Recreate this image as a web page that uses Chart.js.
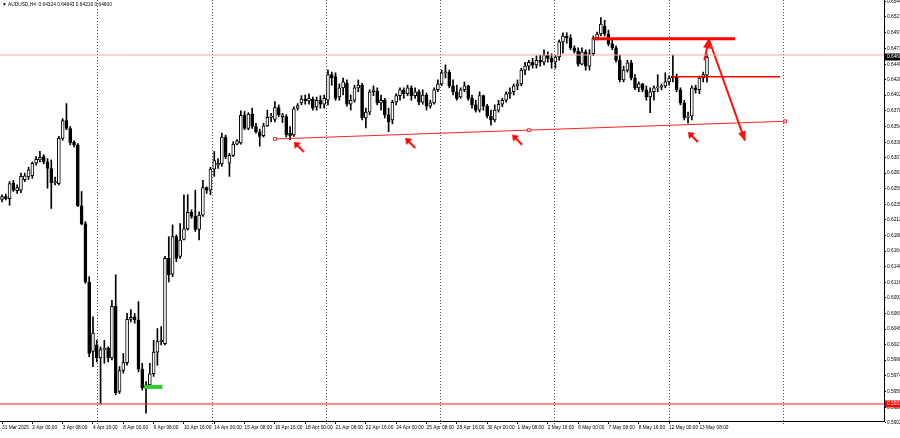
<!DOCTYPE html>
<html>
<head>
<meta charset="utf-8">
<script src="https://cdn.jsdelivr.net/npm/chart.js@4.4.1/dist/chart.umd.min.js"></script>
<style>
  html, body { margin: 0; padding: 0; background: #fff; }
  #wrap { width: 900px; height: 438px; }
</style>
</head>
<body>
<div id="wrap"><canvas id="chart" width="900" height="438"></canvas></div>
<script>
// AUDUSD H4, bar 0 = 31 Mar 2025 16:00, one bar every 4 hours
const opens = [
  0.6243, 0.6247, 0.6244, 0.6268, 0.6256, 0.6257, 0.6273, 0.6277, 0.6279, 0.6298,
  0.6303, 0.6308, 0.6300, 0.6290, 0.6268, 0.6267, 0.6336, 0.6363, 0.6351, 0.6330,
  0.6326, 0.6233, 0.6206, 0.6117, 0.6011, 0.6021, 0.6001, 0.6014, 0.6016, 0.6001,
  0.6080, 0.5950, 0.5982, 0.5994, 0.6060, 0.6064, 0.6059, 0.5984, 0.5956, 0.5960,
  0.5977, 0.6010, 0.6026, 0.6023, 0.6153, 0.6129, 0.6186, 0.6156, 0.6182, 0.6198,
  0.6223, 0.6217, 0.6197, 0.6219, 0.6261, 0.6257, 0.6289, 0.6295, 0.6297, 0.6338,
  0.6298, 0.6310, 0.6327, 0.6329, 0.6371, 0.6351, 0.6373, 0.6354, 0.6346, 0.6340,
  0.6355, 0.6368, 0.6365, 0.6383, 0.6369, 0.6369, 0.6344, 0.6341, 0.6382, 0.6390,
  0.6396, 0.6393, 0.6396, 0.6384, 0.6394, 0.6388, 0.6394, 0.6433, 0.6430, 0.6399,
  0.6413, 0.6420, 0.6388, 0.6394, 0.6413, 0.6417, 0.6367, 0.6376, 0.6407, 0.6408,
  0.6390, 0.6394, 0.6372, 0.6364, 0.6391, 0.6401, 0.6410, 0.6404, 0.6413, 0.6401,
  0.6407, 0.6391, 0.6402, 0.6385, 0.6390, 0.6410, 0.6419, 0.6436, 0.6437, 0.6416,
  0.6407, 0.6399, 0.6410, 0.6416, 0.6397, 0.6387, 0.6379, 0.6401, 0.6385, 0.6370,
  0.6364, 0.6379, 0.6388, 0.6394, 0.6404, 0.6407, 0.6416, 0.6419, 0.6440, 0.6446,
  0.6452, 0.6448, 0.6455, 0.6452, 0.6463, 0.6458, 0.6452, 0.6460, 0.6483, 0.6492,
  0.6489, 0.6474, 0.6469, 0.6449, 0.6468, 0.6446, 0.6465, 0.6489, 0.6495, 0.6507,
  0.6495, 0.6480, 0.6474, 0.6455, 0.6425, 0.6440, 0.6451, 0.6428, 0.6413, 0.6419,
  0.6410, 0.6399, 0.6407, 0.6413, 0.6414, 0.6416, 0.6422, 0.6428, 0.6431, 0.6410,
  0.6390, 0.6368, 0.6370, 0.6413, 0.6410, 0.6428, 0.64324
];
const highs = [
  0.6250, 0.6251, 0.6270, 0.6272, 0.6265, 0.6283, 0.6283, 0.6292, 0.6300, 0.6308,
  0.6316, 0.6311, 0.6305, 0.6303, 0.6277, 0.6339, 0.6366, 0.6389, 0.6354, 0.6332,
  0.6328, 0.6255, 0.6209, 0.6125, 0.6064, 0.6028, 0.6018, 0.6028, 0.6018, 0.6089,
  0.6128, 0.5988, 0.6008, 0.6069, 0.6075, 0.6069, 0.6087, 0.5993, 0.5965, 0.5993,
  0.6028, 0.6046, 0.6049, 0.6156, 0.6186, 0.6204, 0.6189, 0.6206, 0.6250, 0.6250,
  0.6227, 0.6257, 0.6224, 0.6272, 0.6262, 0.6292, 0.6316, 0.6305, 0.6344, 0.6341,
  0.6313, 0.6331, 0.6334, 0.6378, 0.6377, 0.6375, 0.6382, 0.6359, 0.6350, 0.6359,
  0.6379, 0.6374, 0.6392, 0.6387, 0.6374, 0.6372, 0.6354, 0.6384, 0.6389, 0.6401,
  0.6402, 0.6404, 0.6399, 0.6399, 0.6401, 0.6402, 0.6440, 0.6437, 0.6436, 0.6419,
  0.6428, 0.6425, 0.6402, 0.6417, 0.6425, 0.6420, 0.6382, 0.6410, 0.6416, 0.6413,
  0.6402, 0.6397, 0.6382, 0.6394, 0.6404, 0.6413, 0.6413, 0.6417, 0.6416, 0.6413,
  0.6410, 0.6410, 0.6405, 0.6394, 0.6413, 0.6425, 0.6440, 0.6448, 0.6440, 0.6425,
  0.6417, 0.6413, 0.6422, 0.6417, 0.6402, 0.6394, 0.6407, 0.6402, 0.6388, 0.6379,
  0.6387, 0.6394, 0.6397, 0.6407, 0.6413, 0.6419, 0.6425, 0.6443, 0.6452, 0.6455,
  0.6458, 0.6462, 0.6463, 0.6471, 0.6468, 0.6465, 0.6463, 0.6486, 0.6497, 0.6497,
  0.6494, 0.6477, 0.6474, 0.6474, 0.6471, 0.6471, 0.6492, 0.6498, 0.6520, 0.6516,
  0.6501, 0.6486, 0.6477, 0.6463, 0.6446, 0.6455, 0.6455, 0.6433, 0.6422, 0.6420,
  0.6416, 0.6413, 0.6416, 0.6433, 0.6419, 0.6436, 0.6431, 0.6463, 0.6434, 0.6413,
  0.6394, 0.6376, 0.6416, 0.6417, 0.6431, 0.6437, 0.64643
];
const lows = [
  0.6239, 0.6242, 0.6234, 0.6255, 0.6252, 0.6253, 0.6270, 0.6273, 0.6275, 0.6295,
  0.6300, 0.6297, 0.6260, 0.6229, 0.6265, 0.6265, 0.6333, 0.6349, 0.6326, 0.6323,
  0.6232, 0.6204, 0.6115, 0.6003, 0.5988, 0.5995, 0.5931, 0.5993, 0.5995, 0.5998,
  0.5945, 0.5947, 0.5978, 0.5990, 0.6056, 0.6054, 0.5980, 0.5952, 0.5917, 0.5955,
  0.5973, 0.5990, 0.6021, 0.6021, 0.6117, 0.6125, 0.6148, 0.6153, 0.6181, 0.6196,
  0.6214, 0.6194, 0.6181, 0.6217, 0.6252, 0.6250, 0.6278, 0.6290, 0.6293, 0.6305,
  0.6278, 0.6308, 0.6326, 0.6327, 0.6349, 0.6349, 0.6351, 0.6344, 0.6324, 0.6338,
  0.6354, 0.6361, 0.6361, 0.6369, 0.6360, 0.6338, 0.6334, 0.6339, 0.6379, 0.6387,
  0.6388, 0.6388, 0.6379, 0.6379, 0.6382, 0.6382, 0.6387, 0.6417, 0.6394, 0.6394,
  0.6402, 0.6385, 0.6379, 0.6391, 0.6407, 0.6364, 0.6352, 0.6372, 0.6401, 0.6387,
  0.6379, 0.6367, 0.6346, 0.6358, 0.6387, 0.6394, 0.6397, 0.6401, 0.6394, 0.6397,
  0.6387, 0.6388, 0.6379, 0.6382, 0.6388, 0.6407, 0.6416, 0.6428, 0.6413, 0.6402,
  0.6394, 0.6397, 0.6407, 0.6394, 0.6382, 0.6376, 0.6376, 0.6379, 0.6367, 0.6356,
  0.6361, 0.6376, 0.6384, 0.6391, 0.6397, 0.6402, 0.6410, 0.6416, 0.6433, 0.6440,
  0.6443, 0.6443, 0.6446, 0.6448, 0.6452, 0.6443, 0.6443, 0.6455, 0.6466, 0.6481,
  0.6471, 0.6466, 0.6446, 0.6448, 0.6440, 0.6440, 0.6462, 0.6486, 0.6492, 0.6492,
  0.6477, 0.6471, 0.6452, 0.6422, 0.6422, 0.6437, 0.6425, 0.6410, 0.6407, 0.6407,
  0.6394, 0.6375, 0.6394, 0.6407, 0.6410, 0.6413, 0.6417, 0.6422, 0.6407, 0.6387,
  0.6364, 0.6359, 0.6364, 0.6405, 0.6404, 0.6422, 0.64216
];
const closes = [
  0.6247, 0.6244, 0.6267, 0.6257, 0.6261, 0.6278, 0.6279, 0.6288, 0.6298, 0.6304,
  0.6307, 0.6300, 0.6290, 0.6268, 0.6270, 0.6336, 0.6363, 0.6351, 0.6329, 0.6326,
  0.6233, 0.6206, 0.6117, 0.6008, 0.6039, 0.6001, 0.6014, 0.6016, 0.6001, 0.6080,
  0.5948, 0.5982, 0.5994, 0.6060, 0.6063, 0.6059, 0.5984, 0.5956, 0.5960, 0.5977,
  0.6010, 0.6026, 0.6028, 0.6153, 0.6128, 0.6186, 0.6153, 0.6181, 0.6198, 0.6223,
  0.6217, 0.6197, 0.6219, 0.6261, 0.6257, 0.6289, 0.6302, 0.6298, 0.6338, 0.6308,
  0.6310, 0.6327, 0.6332, 0.6371, 0.6351, 0.6373, 0.6354, 0.6346, 0.6339, 0.6355,
  0.6368, 0.6370, 0.6383, 0.6372, 0.6372, 0.6341, 0.6340, 0.6381, 0.6386, 0.6396,
  0.6393, 0.6397, 0.6382, 0.6394, 0.6388, 0.6397, 0.6433, 0.6428, 0.6397, 0.6413,
  0.6422, 0.6388, 0.6394, 0.6413, 0.6417, 0.6367, 0.6376, 0.6407, 0.6410, 0.6390,
  0.6394, 0.6372, 0.6361, 0.6391, 0.6401, 0.6410, 0.6404, 0.6413, 0.6401, 0.6407,
  0.6391, 0.6402, 0.6385, 0.6390, 0.6410, 0.6419, 0.6436, 0.6437, 0.6416, 0.6407,
  0.6397, 0.6410, 0.6416, 0.6397, 0.6387, 0.6379, 0.6401, 0.6385, 0.6370, 0.6364,
  0.6379, 0.6388, 0.6394, 0.6404, 0.6407, 0.6416, 0.6419, 0.6440, 0.6446, 0.6452,
  0.6448, 0.6455, 0.6452, 0.6463, 0.6458, 0.6452, 0.6460, 0.6483, 0.6492, 0.6489,
  0.6474, 0.6469, 0.6449, 0.6468, 0.6446, 0.6465, 0.6489, 0.6495, 0.6510, 0.6495,
  0.6480, 0.6474, 0.6455, 0.6425, 0.6440, 0.6451, 0.6428, 0.6413, 0.6419, 0.6410,
  0.6399, 0.6407, 0.6413, 0.6414, 0.6416, 0.6422, 0.6428, 0.6431, 0.6410, 0.6390,
  0.6368, 0.6370, 0.6413, 0.6410, 0.6428, 0.6433, 0.64600
];

const xTickBars = [0, 8, 16, 24, 32, 40, 48, 56, 64, 72, 80, 88, 96, 104, 112, 120,
  128, 136, 144, 152, 160, 168, 176, 184];
const xTickLabels = ['31 Mar 2025', '2 Apr 00:00', '3 Apr 08:00', '4 Apr 16:00', '8 Apr 00:00',
  '9 Apr 08:00', '10 Apr 16:00', '14 Apr 00:00', '15 Apr 08:00', '16 Apr 16:00', '18 Apr 00:00',
  '21 Apr 08:00', '22 Apr 16:00', '24 Apr 00:00', '25 Apr 08:00', '28 Apr 16:00', '30 Apr 00:00',
  '1 May 08:00', '2 May 16:00', '6 May 00:00', '7 May 08:00', '8 May 16:00', '12 May 00:00',
  '13 May 08:00'];
const yTicks = [0.6544, 0.6521, 0.6497, 0.6473, 0.6449, 0.6426, 0.6402, 0.6378, 0.6354, 0.6330,
  0.6307, 0.6283, 0.6259, 0.6235, 0.6212, 0.6188, 0.6164, 0.6140, 0.6116, 0.6093, 0.6069,
  0.6045, 0.6021, 0.5998, 0.5974, 0.5950, 0.5926, 0.5902];
const gridBars = [25.1, 55.3, 85.4, 115.6, 145.7, 175.9, 206];

// drawn objects: levels, trend line, arrows (bar index, price)
const headerText = '\u25BC AUDUSD,H4  0.64324 0.64643 0.64216 0.64600';
const lastPrice = 0.6460;
const priceLine = 0.6463;
const supportLevel = 0.5931;
const trendLine = [{x: 72, y: 0.6335}, {x: 139, y: 0.63485}, {x: 206.6, y: 0.6362}];
const topLevel = [{x: 155.9, y: 0.6488}, {x: 193.4, y: 0.6488}];
const midLevel = [{x: 176.8, y: 0.6430}, {x: 205.3, y: 0.6430}];
const arrowUp = [{x: 185.3, y: 0.6455}, {x: 186.5, y: 0.6487}];
const arrowDown = [{x: 186.5, y: 0.6487}, {x: 196, y: 0.6333}];
const markArrows = [{x: 78.3, y: 0.6323}, {x: 107.7, y: 0.6329}, {x: 135.9, y: 0.6334}, {x: 182.3, y: 0.6338}];
const greenLevel = [{x: 37.5, y: 0.5957}, {x: 42.3, y: 0.5957}];

const idx = opens.map((_, i) => i);
const wicks = idx.map(i => ({x: i, y: [lows[i], highs[i]]}));
const bodies = idx.map(i => ({x: i, y: [opens[i], closes[i]]}));

function arrowIcon() {
  const c = document.createElement('canvas');
  c.width = 12; c.height = 12;
  const g = c.getContext('2d');
  g.strokeStyle = g.fillStyle = '#ff0000';
  g.lineWidth = 2;
  g.beginPath(); g.moveTo(4, 4); g.lineTo(11, 11); g.stroke();
  g.beginPath(); g.moveTo(1, 1); g.lineTo(8, 2); g.lineTo(2, 8); g.closePath(); g.fill();
  return c;
}

const fullWidth = v => [{x: -5, y: v}, {x: 240, y: v}];

const overlay = {
  id: 'overlay',
  beforeDatasetsDraw(chart) {
    const {ctx, chartArea: a, scales: {x}} = chart;
    ctx.save();
    ctx.strokeStyle = '#555';
    ctx.lineWidth = 1;
    ctx.setLineDash([1, 2]);
    gridBars.forEach(v => {
      const px = Math.round(x.getPixelForValue(v)) + 0.5;
      ctx.beginPath(); ctx.moveTo(px, a.top); ctx.lineTo(px, a.bottom + 3); ctx.stroke();
    });
    ctx.restore();
  },
  afterDatasetsDraw(chart) {
    const ctx = chart.ctx;
    chart.data.datasets.forEach((ds, i) => {
      if (!ds.arrowHead) return;
      const pts = chart.getDatasetMeta(i).data;
      const a = pts[pts.length - 2], b = pts[pts.length - 1];
      const ang = Math.atan2(b.y - a.y, b.x - a.x);
      ctx.save();
      ctx.fillStyle = ds.borderColor;
      ctx.translate(b.x, b.y);
      ctx.rotate(ang);
      ctx.beginPath(); ctx.moveTo(1, 0); ctx.lineTo(-9, -4); ctx.lineTo(-9, 4); ctx.closePath(); ctx.fill();
      ctx.restore();
    });
  },
  afterDraw(chart) {
    const {ctx, chartArea: a, scales: {y}} = chart;
    ctx.save();
    ctx.font = '4.8px "Liberation Sans"';
    ctx.textBaseline = 'middle';
    ctx.fillStyle = '#000';
    ctx.fillText(headerText, 2, 5);
    const box = (v, bg) => {
      const py = y.getPixelForValue(v);
      ctx.fillStyle = bg;
      ctx.fillRect(a.right + 1, py - 3.5, 900 - a.right, 7);
      ctx.fillStyle = '#fff';
      ctx.fillText(v.toFixed(4), a.right + 3, py);
    };
    box(lastPrice, '#000');
    box(supportLevel, '#ff0000');
    ctx.restore();
  }
};

const lineSet = (data, color, width, extra) => Object.assign({
  type: 'line', data: data, borderColor: color, borderWidth: width,
  pointRadius: 0, fill: false, order: 0
}, extra || {});

new Chart(document.getElementById('chart'), {
  type: 'bar',
  data: {
    datasets: [
      {
        data: bodies, order: 1, grouped: false, barThickness: 3, minBarLength: 1,
        borderWidth: 1, borderSkipped: false, borderColor: '#000',
        backgroundColor: c => closes[c.dataIndex] >= opens[c.dataIndex] ? '#fff' : '#000'
      },
      {data: wicks, order: 2, grouped: false, barThickness: 1, backgroundColor: '#000'},
      lineSet(fullWidth(priceLine), '#f4a6a0', 1),
      lineSet(fullWidth(supportLevel), '#ff2020', 1),
      lineSet(trendLine, '#ff2020', 1, {
        pointRadius: 2, pointStyle: 'rect', pointBackgroundColor: '#fff',
        pointBorderColor: '#ff2020', pointBorderWidth: 1
      }),
      lineSet(topLevel, '#ff0000', 3),
      lineSet(midLevel, '#ff0000', 1.5),
      lineSet(arrowUp, '#ff1010', 2, {arrowHead: true}),
      lineSet(arrowDown, '#ff1010', 2, {arrowHead: true}),
      lineSet(greenLevel, '#2ecc2e', 4),
      lineSet(markArrows, '#ff0000', 0, {showLine: false, pointRadius: 6, pointStyle: arrowIcon()})
    ]
  },
  options: {
    responsive: false,
    animation: false,
    devicePixelRatio: 1,
    layout: {padding: 0, autoPadding: false},
    plugins: {legend: {display: false}, tooltip: {enabled: false}},
    scales: {
      x: {
        type: 'linear', min: -0.53, max: 232.7, offset: false,
        afterBuildTicks: s => { s.ticks = xTickBars.map(v => ({value: v})); },
        afterFit: s => { s.height = 17; s.paddingLeft = 0; s.paddingRight = 0; },
        ticks: {
          autoSkip: false, maxRotation: 0, align: 'start', padding: 1, color: '#000',
          font: {family: 'Liberation Sans', size: 4.8},
          callback: (v, i) => xTickLabels[i]
        },
        grid: {drawOnChartArea: false, offset: false, tickLength: 3, color: '#000'},
        border: {color: '#000'}
      },
      y: {
        type: 'linear', position: 'right', min: 0.5905, max: 0.65469,
        afterBuildTicks: s => { s.ticks = yTicks.map(v => ({value: v})); },
        afterFit: s => { s.width = 16; s.paddingTop = 0; s.paddingBottom = 0; },
        ticks: {
          padding: 1, color: '#000',
          font: {family: 'Liberation Sans', size: 4.8},
          callback: v => v.toFixed(4)
        },
        grid: {drawOnChartArea: false, tickLength: 2, color: '#000'},
        border: {color: '#000'}
      }
    }
  },
  plugins: [overlay]
});
</script>
</body>
</html>
